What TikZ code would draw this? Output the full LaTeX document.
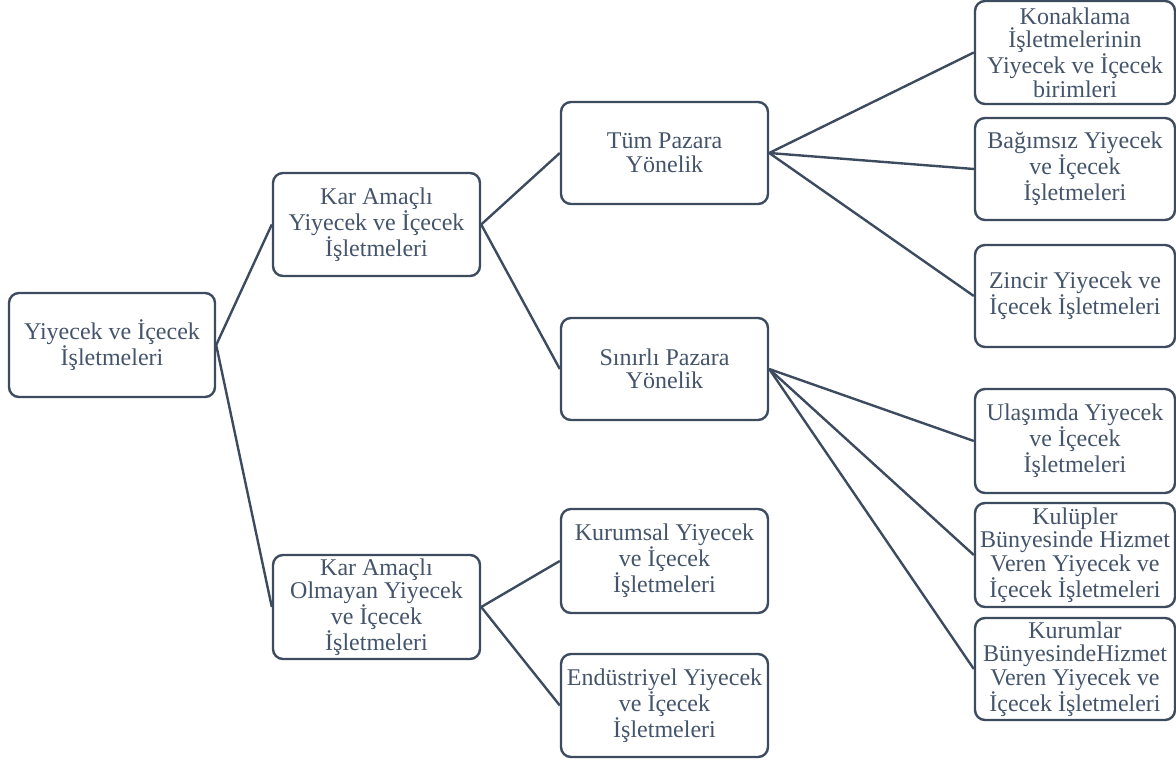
\documentclass[tikz,border=0pt]{standalone}
\usepackage{fontspec}
\setmainfont{Liberation Serif}
\newfontfamily\boxfont{Liberation Serif}
\definecolor{txt}{HTML}{44546A}
\definecolor{ln}{HTML}{3D4B5E}
\begin{document}
\begin{tikzpicture}[x=1pt,y=-1pt,
  box/.style={draw=ln, line width=2.4pt, rounded corners=10pt, fill=white,
    text=txt, align=center, inner sep=0pt, minimum height=103pt,
    font={\boxfont\fontsize{24}{23.5}\selectfont}},
  midbox/.style={box, minimum width=207pt},
  rbox/.style={box, minimum width=200pt},
  conn/.style={draw=ln, line width=2.4pt}]
\useasboundingbox (0,0) rectangle (1176,760);
\node[box, minimum width=206pt, minimum height=104pt] (root) at (112,345) {Yiyecek ve İçecek\\İşletmeleri};
\node[midbox] (kar) at (376.5,224.5) {Kar Amaçlı\\Yiyecek ve İçecek\\İşletmeleri};
\node[midbox, minimum height=104pt] (olm) at (376.5,607) {Kar Amaçlı\\Olmayan Yiyecek\\ve İçecek\\İşletmeleri};
\node[midbox, minimum height=102pt] (tum) at (664.5,153) {Tüm Pazara\\Yönelik};
\node[midbox, minimum height=102pt] (sin) at (664.5,369) {Sınırlı Pazara\\Yönelik};
\node[midbox, minimum height=104pt] (kur) at (664.5,561) {Kurumsal Yiyecek\\ve İçecek\\İşletmeleri};
\node[midbox] (end) at (664.5,705.5) {Endüstriyel Yiyecek\\ve İçecek\\İşletmeleri};
\node[rbox] (kon) at (1075,52.5) {Konaklama\\İşletmelerinin\\Yiyecek ve İçecek\\birimleri};
\node[rbox, minimum height=102pt] (bag) at (1075,169) {Bağımsız Yiyecek\\ve İçecek\\İşletmeleri};
\node[rbox, minimum height=102pt] (zin) at (1075,296) {Zincir Yiyecek ve\\İçecek İşletmeleri};
\node[rbox, minimum height=104pt] (ula) at (1075,441) {Ulaşımda Yiyecek\\ve İçecek\\İşletmeleri};
\node[rbox, minimum height=104pt] (kul) at (1075,555) {Kulüpler\\Bünyesinde Hizmet\\Veren Yiyecek ve\\İçecek İşletmeleri};
\node[rbox, minimum height=102pt] (kum) at (1075,669) {Kurumlar\\BünyesindeHizmet\\Veren Yiyecek ve\\İçecek İşletmeleri};
\draw[conn] (root.east) -- (kar.west);
\draw[conn] (root.east) -- (olm.west);
\draw[conn] (kar.east) -- (tum.west);
\draw[conn] (kar.east) -- (sin.west);
\draw[conn] (olm.east) -- (kur.west);
\draw[conn] (olm.east) -- (end.west);
\draw[conn] (tum.east) -- (kon.west);
\draw[conn] (tum.east) -- (bag.west);
\draw[conn] (tum.east) -- (zin.west);
\draw[conn] (sin.east) -- (ula.west);
\draw[conn] (sin.east) -- (kul.west);
\draw[conn] (sin.east) -- (kum.west);
\end{tikzpicture}
\end{document}
